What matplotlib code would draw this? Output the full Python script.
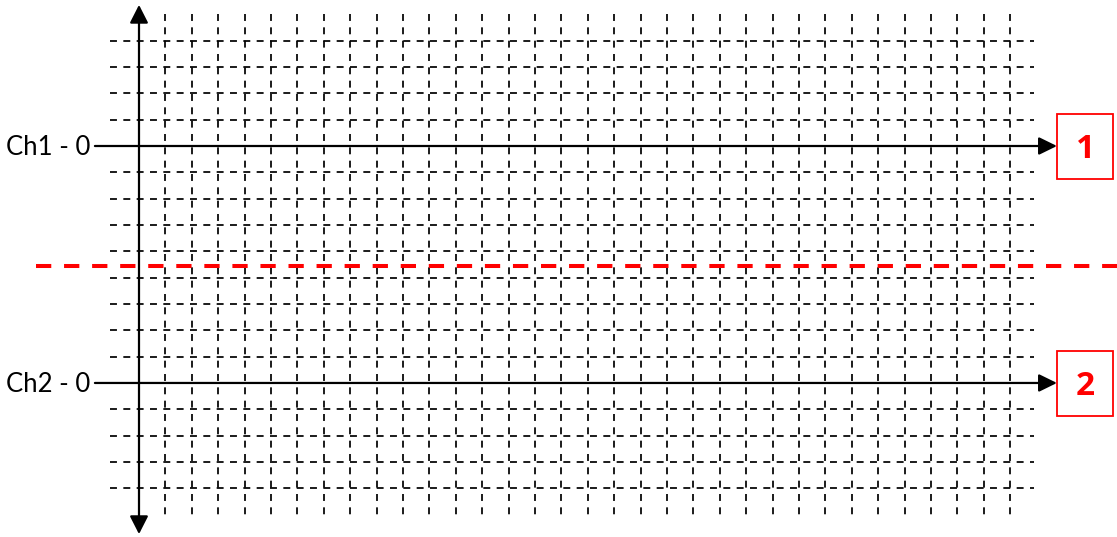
import matplotlib
matplotlib.use("Agg")
import matplotlib.pyplot as plt
from matplotlib.patches import FancyArrowPatch, Rectangle
import numpy as np

plt.rcParams["lines.scale_dashes"] = False

# Scope screen layout (all in grid divisions)
channels = ["Ch1", "Ch2"]
channel_levels = [0.0, -9.0]          # vertical position of each trace baseline
channel_tags = ["1", "2"]
time_divs = list(range(1, 34))         # vertical graticule lines
volt_divs = [1, 2, 3, 4]               # graticule lines above/below each baseline
split_level = -4.55                    # boundary between the two channel panes

PX_X = 26.4    # pixels per division, horizontal
PX_Y = 26.33   # pixels per division, vertical
W, H = 1117, 537
ORIGIN_PX = (139, 146)

fig = plt.figure(figsize=(W / 100, H / 100), dpi=100)
ax = fig.add_axes([0, 0, 1, 1])
ax.set_xlim(-ORIGIN_PX[0] / PX_X, (W - ORIGIN_PX[0]) / PX_X)
ax.set_ylim(-(H - ORIGIN_PX[1]) / PX_Y, ORIGIN_PX[1] / PX_Y)
ax.axis("off")

grid_dash = (0, (5.0, 4.6))
grid_kw = dict(color="black", lw=1.25, linestyle=grid_dash, solid_capstyle="butt")

# vertical graticule
y_top = channel_levels[0] + 5
y_bot = channel_levels[-1] - 5
for x in time_divs:
    ax.plot([x, x], [y_top, y_bot], **grid_kw)

# horizontal graticule around each baseline
for lvl in channel_levels:
    for d in volt_divs:
        for y in (lvl + d, lvl - d):
            ax.plot([-1.1, 33.9], [y, y], **grid_kw)

# red separator between channels
ax.plot([-3.92, 45], [split_level, split_level], color="#ff0000", lw=2.9,
        linestyle=(0, (11.0, 9.2)), zorder=5)


def arrow(p0, p1, style):
    a = FancyArrowPatch(p0, p1, arrowstyle=style, mutation_scale=1,
                        color="black", lw=1.6, shrinkA=0, shrinkB=0, zorder=6)
    ax.add_patch(a)


# vertical amplitude axis with arrows at both ends
arrow((0, -14.74), (0, 5.36), "<|-|>,head_length=11,head_width=5.6")

# channel baselines, labels and tag boxes
for name, lvl, tag in zip(channels, channel_levels, channel_tags):
    arrow((-1.67, lvl), (34.77, lvl), "-|>,head_length=11,head_width=5.4")
    ax.text(-1.86, lvl - 0.05, f"{name} - 0", ha="right", va="center",
            fontsize=18.5, family="Lato", color="black")
    ax.add_patch(Rectangle((34.77, lvl - 1.25), 2.13, 2.47, fill=False,
                           edgecolor="#ff0000", lw=1.3, zorder=6))
    ax.text(34.77 + 2.13 / 2, lvl - 0.12, tag, ha="center", va="center",
            fontsize=24, fontweight="bold", family="Open Sans", color="#ff0000")

fig.savefig("out.png", dpi=100)
